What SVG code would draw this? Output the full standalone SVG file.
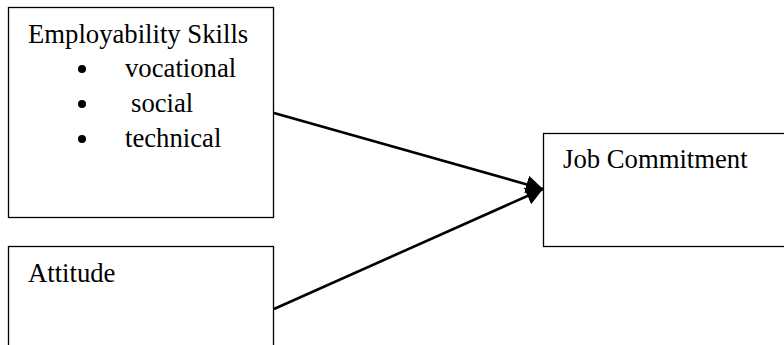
<svg xmlns="http://www.w3.org/2000/svg" width="784" height="345" viewBox="0 0 784 345">
<style>
.box{fill:#fff;stroke:#000;stroke-width:1.3}
.t{font-family:"Liberation Serif","Times New Roman",serif;font-size:26.7px;fill:#000}
.conn{stroke:#000;stroke-width:2.6;fill:none}
</style>
<defs>
<marker id="ah" markerUnits="userSpaceOnUse" markerWidth="22" markerHeight="20" refX="17" refY="9" orient="auto">
<path d="M0,0 L17,9 L0,18 Z" fill="#000"/>
</marker>
</defs>
<rect width="784" height="345" fill="#fff"/>
<g id="employability">
<rect class="box" x="8.5" y="7.5" width="265" height="210"/>
<text class="t" x="28" y="43">Employability Skills</text>
<circle cx="82" cy="69" r="4"/>
<text class="t" x="125" y="77">vocational</text>
<circle cx="82" cy="104" r="4"/>
<text class="t" x="131" y="112">social</text>
<circle cx="82" cy="139" r="4"/>
<text class="t" x="125" y="147">technical</text>
</g>
<g id="attitude">
<rect class="box" x="8.5" y="246.5" width="265" height="120"/>
<text class="t" x="28" y="282">Attitude</text>
</g>
<g id="jobcommitment">
<rect class="box" x="543.5" y="133.5" width="260" height="113"/>
<text class="t" x="563" y="168">Job Commitment</text>
</g>
<g id="connectors">
<line class="conn" x1="274" y1="113" x2="543" y2="189" marker-end="url(#ah)"/>
<line class="conn" x1="274" y1="309" x2="543" y2="189" marker-end="url(#ah)"/>
</g>
</svg>
